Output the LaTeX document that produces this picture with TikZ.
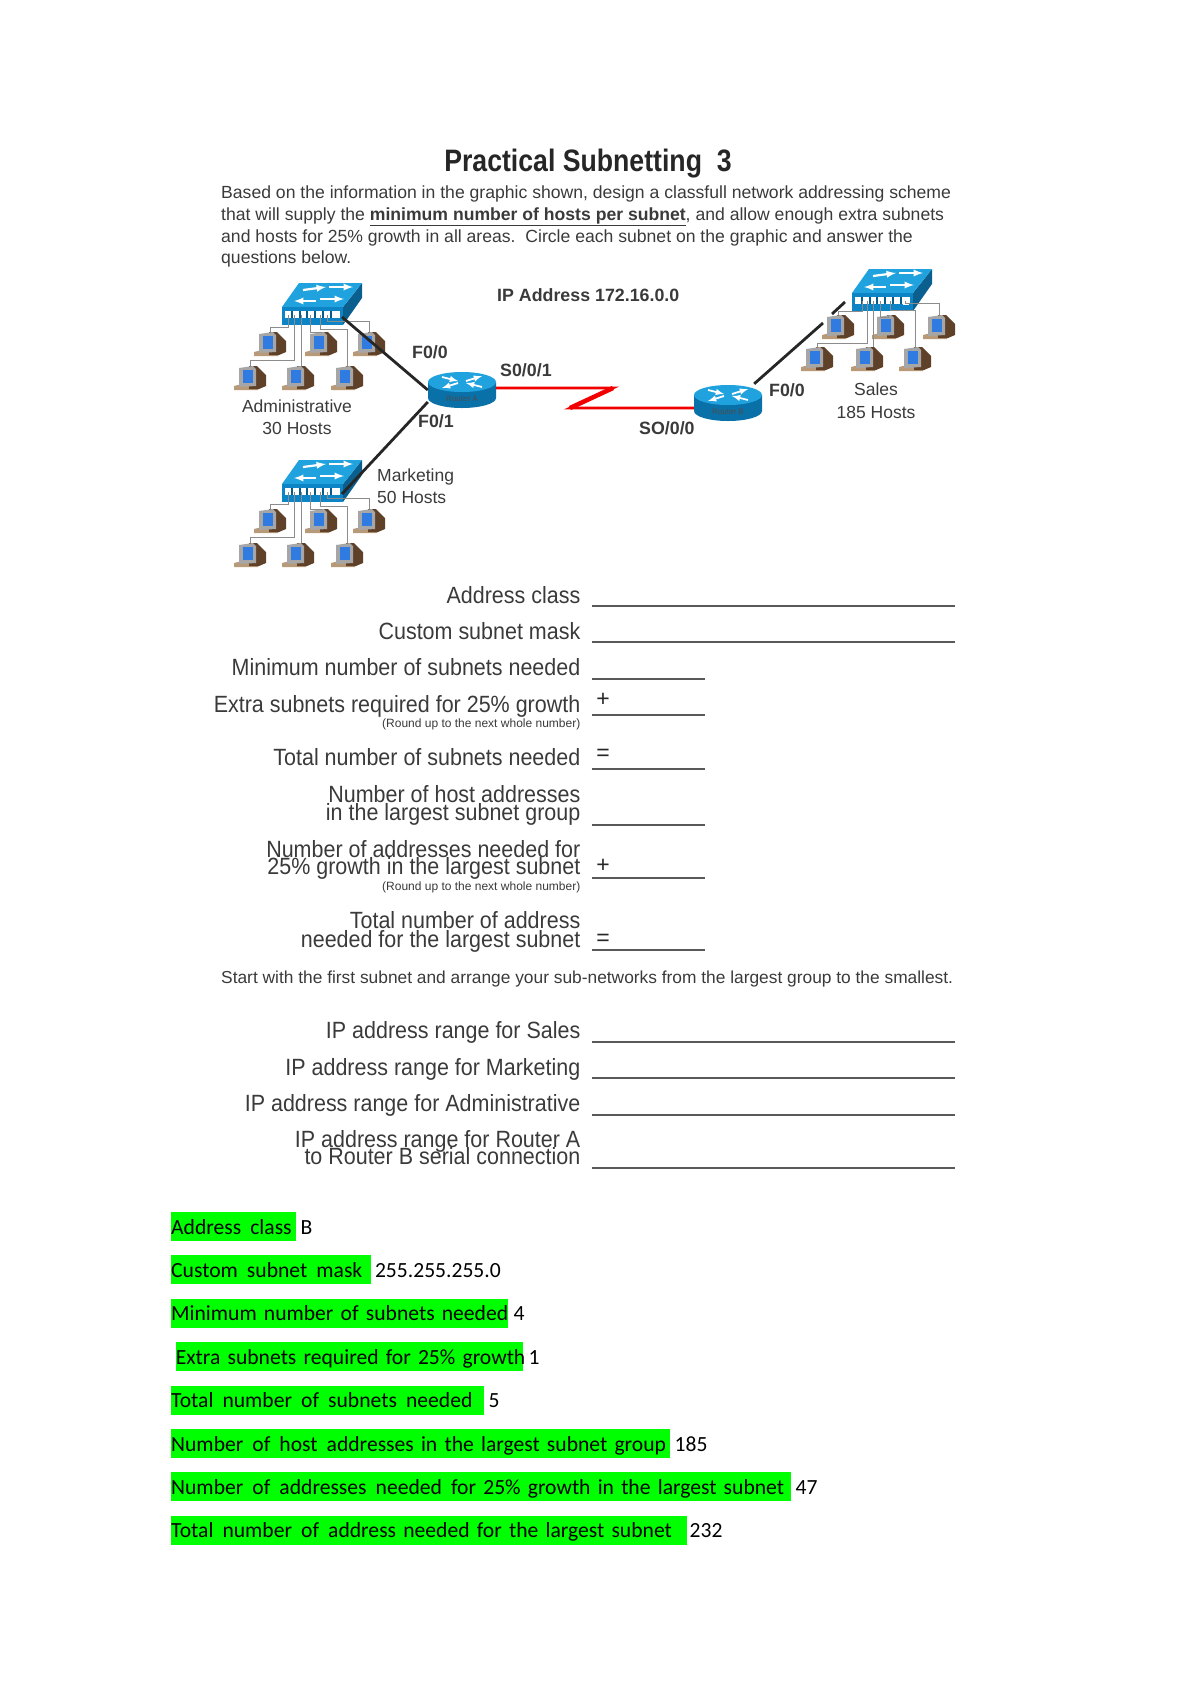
\documentclass[tikz,border=0pt]{standalone}
\usepackage{fontspec}
\setmainfont{Liberation Sans}
\newfontfamily\formfont[FakeStretch=0.914]{Liberation Sans}
\newfontfamily\titlefont[FakeStretch=0.86]{Liberation Sans}
\newfontfamily\answerfont[WordSpace=0.8]{Carlito}
\newcommand{\wgap}{\hspace{.42em}}
\usetikzlibrary{positioning, arrows}

\definecolor{swtop}{HTML}{1FA2DE}
\definecolor{swfront}{HTML}{0C84C6}
\definecolor{swside}{HTML}{0B5F8E}
\definecolor{towerdark}{HTML}{5E4128}
\definecolor{towerlight}{HTML}{B99A78}
\definecolor{screenblue}{HTML}{2F7BE2}
\definecolor{inkgray}{HTML}{3A3A3A}
\definecolor{wiregray}{HTML}{8C8C8C}
\definecolor{marker}{RGB}{0,255,0}

\tikzset{
  titletext/.style={font=\fontsize{31}{34}\titlefont\selectfont\bfseries, text=black!85, inner sep=0pt, anchor=base},
  bodytext/.style={font=\fontsize{17.6}{20}\selectfont, text=inkgray, inner sep=0pt, anchor=base west},
  netbold/.style={font=\fontsize{17.8}{20}\selectfont\bfseries, text=inkgray, inner sep=0pt, anchor=base west},
  netlabel/.style={font=\fontsize{17.5}{21.5}\selectfont, text=inkgray, inner sep=0pt, align=center, anchor=base},
  formtext/.style={font=\fontsize{23.5}{18}\formfont\selectfont, text=inkgray, inner sep=0pt, align=right, anchor=base east},
  smalltext/.style={font=\fontsize{12}{14}\selectfont, text=inkgray, inner sep=0pt, anchor=base east},
  signtext/.style={font=\fontsize{23}{23}\selectfont, text=black!85, inner sep=0pt, anchor=base},
  answer/.style={font=\fontsize{21.6}{24}\answerfont\selectfont, fill=marker, inner sep=0pt, minimum height=29pt, text height=18pt, text depth=3pt, text width=#1, align=left},
  value/.style={font=\fontsize{21.6}{24}\answerfont\selectfont, inner sep=0pt, text height=18pt, text depth=3pt},
  blank/.style={draw=black!65, line width=1.3pt},
  cable/.style={draw=wiregray, line width=1pt},
  link/.style={draw=black!85, line width=2.8pt},
  serial/.style={draw=red!95!black, line width=2.6pt},
  pics/host/.style={code={
    \node[inner sep=0pt, minimum width=30pt, minimum height=24pt] (-box) at (0,0) {};
    \fill[towerlight] (-16,8) -- (-8,6) -- (8,8) -- (8,12) -- (-16,12) -- cycle;
    \fill[towerdark] (-1,-12) -- (7,-12) -- (16,-3) -- (16,8) -- (9,11) -- (-1,11) -- cycle;
    \fill[black!35] (-11,-10) -- (3,-12) -- (6,-9) -- (6,8) -- (-11,9) -- cycle;
    \fill[screenblue] (-7,-8) rectangle (3,5);
  }},
  pics/switch/.style={code={
    \fill[swside] (61,0) -- (80,-24) -- (80,-9) -- (61,18) -- cycle;
    \fill[swtop] (0,0) -- (17,-24) -- (80,-24) -- (61,0) -- cycle;
    \fill[swfront] (0,0) rectangle (61,18);
    \fill[white] (3,4) rectangle (58,11);
    \draw[swfront!70!black, line width=1.2pt] (10,4) -- (10,11) (18,4) -- (18,11) (25,4) -- (25,11) (33,4) -- (33,11) (41,4) -- (41,11) (49,4) -- (49,11);
    \draw[white, line width=2.2pt, -latex] (21,-17) -- (44,-20);
    \draw[white, line width=2.2pt, -latex] (47,-20) -- (71,-20);
    \draw[white, line width=2.2pt, latex-] (12,-6) -- (34,-6);
    \draw[white, line width=2.2pt, -latex] (38,-8) -- (62,-8);
    \coordinate (-p1) at (6.5,8);
    \coordinate (-p2) at (12,8);
    \coordinate (-p3) at (19,8);
    \coordinate (-p4) at (28,8);
    \coordinate (-p5) at (38,8);
    \coordinate (-p6) at (45,8);
    \coordinate (-port) at (60,10);
  }},
  pics/lan/.style={code={
    \pic (-h1) at (-12,37) {host};
    \pic (-h2) at (39,37) {host};
    \pic (-h3) at (87,37) {host};
    \pic (-h4) at (-32,71) {host};
    \pic (-h5) at (16,71) {host};
    \pic (-h6) at (65,71) {host};
    \pic (-sw) at (0,0) {switch};
    \draw[cable] (-sw-p1) -- ++(0,12) -| (-h1-box.north);
    \draw[cable] (-sw-p2) -- ++(0,45) -| (-h4-box.north);
    \draw[cable] (-sw-p3) -- (-sw-p3 |- -h5-box.north);
    \draw[cable] (-sw-p4) -- ++(0,17) -| (-h2-box.north);
    \draw[cable] (-sw-p5) -- ++(0,14) -| (-h6-box.north);
    \draw[cable] (-sw-p6) -- ++(0,6) -| (-h3-box.north);
  }},
  pics/router/.style={code={
    \node[inner sep=0pt, minimum width=68pt, minimum height=38pt] (-body) at (0,8) {};
    \fill[swfront!85!black] (-34,0) -- (-34,16) arc[start angle=180, end angle=360, x radius=34, y radius=-10] -- (34,0) -- cycle;
    \fill[swtop] (0,0) ellipse[x radius=34, y radius=10];
    \draw[white, line width=1.8pt, -latex] (-20,-5) -- (-4,-1);
    \draw[white, line width=1.8pt, -latex] (20,5) -- (4,1);
    \draw[white, line width=1.8pt, -latex] (4,-1) -- (20,-6);
    \draw[white, line width=1.8pt, -latex] (-4,1) -- (-20,6);
    \node[font=\fontsize{8}{9}\selectfont, text=black!70, inner sep=0pt] at (0,17) {#1};
  }},
}

\begin{document}
\begin{tikzpicture}[x=1pt,y=-1pt]
  \useasboundingbox (0,0) rectangle (1200,1698);

  % heading
  \node[titletext] (title) at (588,171) {Practical Subnetting\ \ 3};
  \node[bodytext] (intro1) at (221,198) {Based on the information in the graphic shown, design a classfull network addressing scheme};
  \node[bodytext] (intro2) at (221,220) {that will supply the \textbf{\underline{minimum number of hosts per subnet}}, and allow enough extra subnets};
  \node[bodytext] (intro3) at (221,242) {and hosts for 25\% growth in all areas.\ \ Circle each subnet on the graphic and answer the};
  \node[bodytext] (intro4) at (221,263) {questions below.};

  % network
  \pic (adm) at (282,307) {lan};
  \pic (mkt) at (282,484) {lan};
  \pic (rtA) at (462,382) {router=Router A};
  \pic (rtB) at (728,395) {router=Router B};

  \pic (sh1) at (838,327) {host};
  \pic (sh2) at (888,327) {host};
  \pic (sh3) at (939,327) {host};
  \pic (sh4) at (817,359) {host};
  \pic (sh5) at (867,359) {host};
  \pic (sh6) at (915,359) {host};
  \pic (sal) at (852,293) {switch};
  \fill[white] ([xshift=6pt,yshift=-4pt]sal-p6) rectangle ([xshift=12pt,yshift=3pt]sal-p6);
  \draw[cable] ([xshift=3.5pt]sal-p1) -- ++(0,10) -| (sh1-box.north);
  \draw[cable] ([xshift=3pt]sal-p2) -- ++(0,42) -| (sh4-box.north);
  \draw[cable] ([xshift=2pt]sal-p3) -- ([xshift=2pt]sal-p3 |- sh5-box.north);
  \draw[cable] (sal-p4) -- ++(0,16) -| (sh2-box.north);
  \draw[cable] (sal-p5) -- ++(0,9) -| (sh6-box.north);
  \draw[cable] ([xshift=8pt]sal-p6) -- ++(0,2) -| (sh3-box.north);

  \draw[link] (adm-sw-port) -- (rtA-body.west);
  \draw[link] (mkt-sw-port) -- ([yshift=-12pt]rtA-body.west);

  \coordinate (zTop) at (613,388);
  \coordinate (zBot) at (570,408);
  \draw[serial] ([yshift=2pt]rtA-body.east) -- (zTop) -- (zBot) -- ([yshift=-5pt]rtB-body.west);
  \draw[serial, line width=4.5pt] (zTop) -- (zBot);

  \coordinate (salesIn) at (845,302);
  \coordinate (gapA) at (823,323);
  \coordinate (gapB) at (832,314);
  \draw[link] ([xshift=-8pt]rtB-body.north east) -- (gapA);
  \draw[link] (gapB) -- (salesIn);

  \node[netbold] (ipaddr) at (497,301) {IP Address 172.16.0.0};
  \node[netbold] (f00a) at (412,358) {F0/0};
  \node[netbold] (f01a) at (418,427) {F0/1};
  \node[netbold] (s001) at (500,376) {S0/0/1};
  \node[netbold] (s000) at (639,434) {SO/0/0};
  \node[netbold] (f00b) at (769,396) {F0/0};
  \node[netlabel] (admtxt) at (297,412) {Administrative};
  \node[netlabel] (admnum) at (297,434) {30 Hosts};
  \node[netlabel, anchor=base west] (mkttxt) at (377,481) {Marketing};
  \node[netlabel, anchor=base west] (mktnum) at (377,503) {50 Hosts};
  \node[netlabel] (saltxt) at (876,395) {Sales};
  \node[netlabel] (salnum) at (876,418) {185 Hosts};

  % questions
  \node[formtext] (q1) at (580.5,603) {Address class};
  \node[formtext] (q2) at (580.5,639) {Custom subnet mask};
  \node[formtext] (q3) at (580.5,675) {Minimum number of subnets needed};
  \node[formtext] (q4) at (580.5,712) {Extra subnets required for 25\% growth};
  \node[smalltext] (q4note) at (580.5,727.5) {(Round up to the next whole number)};
  \node[formtext] (q5) at (580.5,765) {Total number of subnets needed};
  \node[formtext] (q6a) at (580.5,802) {Number of host addresses};
  \node[formtext] (q6) at (580.5,820) {in the largest subnet group};
  \node[formtext] (q7a) at (580.5,857) {Number of addresses needed for};
  \node[formtext] (q7) at (580.5,874) {25\% growth in the largest subnet};
  \node[smalltext] (q7note) at (580.5,890) {(Round up to the next whole number)};
  \node[formtext] (q8a) at (580.5,928) {Total number of address};
  \node[formtext] (q8) at (580.5,947) {needed for the largest subnet};
  \node[bodytext, font=\fontsize{17.35}{20}\selectfont] (startline) at (221,983) {Start with the first subnet and arrange your sub-networks from the largest group to the smallest.};
  \node[formtext] (r1) at (580.5,1038) {IP address range for Sales};
  \node[formtext] (r2) at (580.5,1075) {IP address range for Marketing};
  \node[formtext] (r3) at (580.5,1111) {IP address range for Administrative};
  \node[formtext] (r4a) at (580.5,1147) {IP address range for Router A};
  \node[formtext] (r4) at (580.5,1164) {to Router B serial connection};

  \draw[blank] ([shift={(11pt,-3pt)}]q1.base east) -- ++(363,0);
  \draw[blank] ([shift={(11pt,-3pt)}]q2.base east) -- ++(363,0);
  \draw[blank] ([shift={(11pt,-4pt)}]q3.base east) -- ++(113,0);
  \draw[blank] ([shift={(11pt,-3pt)}]q4.base east) -- ++(113,0);
  \draw[blank] ([shift={(11pt,-4pt)}]q5.base east) -- ++(113,0);
  \draw[blank] ([shift={(11pt,-5pt)}]q6.base east) -- ++(113,0);
  \draw[blank] ([shift={(11pt,-4pt)}]q7.base east) -- ++(113,0);
  \draw[blank] ([shift={(11pt,-3pt)}]q8.base east) -- ++(113,0);
  \draw[blank] ([shift={(11pt,-4pt)}]r1.base east) -- ++(363,0);
  \draw[blank] ([shift={(11pt,-3pt)}]r2.base east) -- ++(363,0);
  \draw[blank] ([shift={(11pt,-4pt)}]r3.base east) -- ++(363,0);
  \draw[blank] ([shift={(11pt,-4pt)}]r4.base east) -- ++(363,0);

  \node[signtext] (plus1) at (603,706) {+};
  \node[signtext] (eq1) at (603,760) {=};
  \node[signtext] (plus2) at (603,872) {+};
  \node[signtext] (eq2) at (603,945) {=};

  % answers
  \node[answer=125pt, anchor=west] (ans1) at (171,1226.5) {\mbox{Address\wgap class}};
  \node[answer=199.4pt, below right=14pt and 0pt of ans1.south west] (ans2) {\mbox{Custom\wgap subnet\wgap mask}};
  \node[answer=337pt, below right=14pt and 0pt of ans2.south west] (ans3) {\mbox{Minimum number of subnets needed}};
  \node[answer=347.4pt, below right=14pt and 4.6pt of ans3.south west] (ans4) {\mbox{Extra subnets required for 25\% growth}};
  \node[answer=313pt, below right=14pt and -4.6pt of ans4.south west] (ans5) {\mbox{Total\wgap number\wgap of\wgap subnets\wgap needed}};
  \node[answer=499pt, below right=14pt and 0pt of ans5.south west] (ans6) {\mbox{Number\wgap of\wgap host\wgap addresses in the largest subnet group}};
  \node[answer=620pt, below right=14pt and 0pt of ans6.south west] (ans7) {\mbox{Number\wgap of\wgap addresses\wgap needed\wgap for 25\% growth in the largest subnet}};
  \node[answer=516pt, below right=14pt and 0pt of ans7.south west] (ans8) {\mbox{Total\wgap number\wgap of\wgap address needed for the largest subnet}};

  \node[value, right=4pt of ans1] (val1) {B};
  \node[value, right=4pt of ans2] (val2) {255.255.255.0};
  \node[value, right=5pt of ans3] (val3) {4};
  \node[value, right=5pt of ans4] (val4) {1};
  \node[value, right=4pt of ans5] (val5) {5};
  \node[value, right=4pt of ans6] (val6) {185};
  \node[value, right=4pt of ans7] (val7) {47};
  \node[value, right=2pt of ans8] (val8) {232};
\end{tikzpicture}
\end{document}
